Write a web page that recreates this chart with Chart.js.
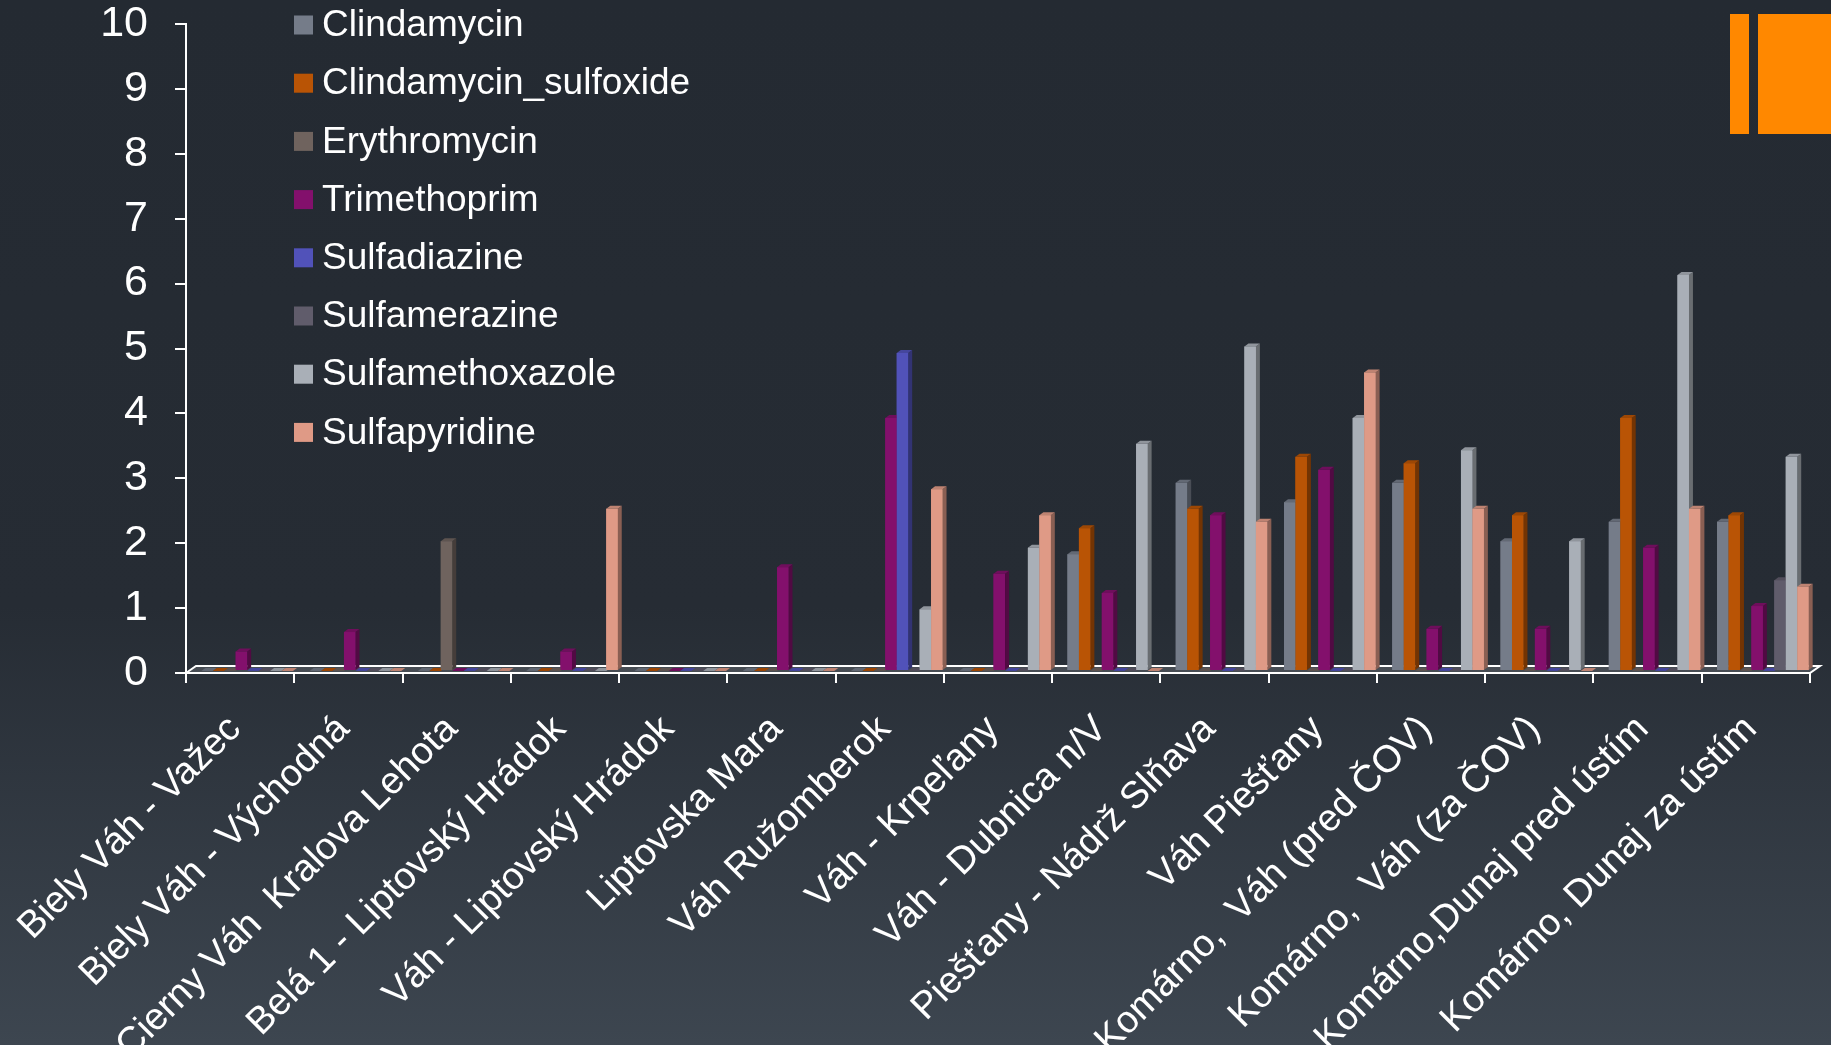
<!DOCTYPE html>
<html>
<head>
<meta charset="utf-8">
<script src="https://cdn.jsdelivr.net/npm/chart.js@4.4.1/dist/chart.umd.min.js"></script>
<style>
  html, body { margin: 0; padding: 0; }
  body {
    width: 1831px; height: 1045px; overflow: hidden; position: relative;
    background: linear-gradient(to bottom, #242a32 0%, #262c34 58%, #3d4650 100%);
  }
  #chart { position: absolute; left: 0; top: 0; }
  .accent { position: absolute; top: 14px; height: 120px; background: #ff8800; }
</style>
</head>
<body>
<canvas id="chart" width="1831" height="1045"></canvas>
<div class="accent" style="left:1730px;width:19px"></div>
<div class="accent" style="left:1758px;width:73px"></div>
<script>
const sites = [
  'Biely Váh - Važec', 'Biely Váh - Východná', 'Cierny Váh  Kralova Lehota',
  'Belá 1 - Liptovský Hrádok', 'Váh - Liptovský Hrádok', 'Liptovska Mara',
  'Váh Ružomberok', 'Váh - Krpeľany', 'Váh - Dubnica n/V', 'Piešťany - Nádrž Slňava',
  'Váh Piešťany', 'Komárno,  Váh (pred ČOV)', 'Komárno,  Váh (za ČOV)',
  'Komárno,Dunaj pred ústím', 'Komárno, Dunaj za ústím'
];

const compounds = [
  'Clindamycin', 'Clindamycin_sulfoxide', 'Erythromycin', 'Trimethoprim',
  'Sulfadiazine', 'Sulfamerazine', 'Sulfamethoxazole', 'Sulfapyridine'
];

const clindamycin         = [0, 0, 0, 0, 0, 0, 0, 0, 1.8, 2.9, 2.6, 2.9, 2.0, 2.3, 2.3];
const clindamycinSulfox   = [0, 0, 0, 0, 0, 0, 0, 0, 2.2, 2.5, 3.3, 3.2, 2.4, 3.9, 2.4];
const erythromycin        = [0, 0, 2.0, 0, 0, 0, 0, 0, 0, 0, 0, 0, 0, 0, 0];
const trimethoprim        = [0.3, 0.6, 0, 0.3, 0, 1.6, 3.9, 1.5, 1.2, 2.4, 3.1, 0.65, 0.65, 1.9, 1.0];
const sulfadiazine        = [0, 0, 0, 0, 0, 0, 4.9, 0, 0, 0, 0, 0, 0, 0, 0];
const sulfamerazine       = [0, 0, 0, 0, 0, 0, 0, 0, 0, 0, 0, 0, 0, 0, 1.4];
const sulfamethoxazole    = [0, 0, 0, 0, 0, 0, 0.95, 1.9, 3.5, 5.0, 3.9, 3.4, 2.0, 6.1, 3.3];
const sulfapyridine       = [0, 0, 0, 2.5, 0, 0, 2.8, 2.4, 0, 2.3, 4.6, 2.5, 0, 2.5, 1.3];

const yTicks = [0, 1, 2, 3, 4, 5, 6, 7, 8, 9, 10];

const seriesValues = [clindamycin, clindamycinSulfox, erythromycin, trimethoprim,
                      sulfadiazine, sulfamerazine, sulfamethoxazole, sulfapyridine];
const seriesColors = ['#757c89', '#b95405', '#6f635e', '#83106c',
                      '#5152b9', '#605c6b', '#a9afb7', '#df9a86'];

const FONT = '"Liberation Sans", Arial, sans-serif';
const PLOT_TOP = 24;

function shade(hex, f) {
  const n = parseInt(hex.slice(1), 16);
  const c = v => Math.max(0, Math.min(255, Math.round(v * f)));
  return `rgb(${c((n >> 16) & 255)},${c((n >> 8) & 255)},${c(n & 255)})`;
}

// pin the top of the value axis so "10" sits right under the edge
const pinTop = {
  id: 'pinTop',
  afterLayout(chart) {
    const a = chart.chartArea;
    const y = chart.scales.y;
    a.top = PLOT_TOP;
    a.height = a.bottom - a.top;
    y.top = PLOT_TOP;
    y.height = y.bottom - y.top;
    y.configure();
  }
};

// columns sit a little behind the front edge of the floor
const SHIFT_X = 7, SHIFT_Y = -2;
// depth of each column's side / top face
const DEPTH_X = 4, DEPTH_Y = -3;

const columns3d = {
  id: 'columns3d',
  beforeDatasetsDraw(chart) {
    const ctx = chart.ctx;
    const a = chart.chartArea;
    const fx = 10, fy = -7;
    ctx.save();
    ctx.beginPath();
    ctx.moveTo(a.left, a.bottom);
    ctx.lineTo(a.left + fx, a.bottom + fy);
    ctx.lineTo(a.right + fx, a.bottom + fy);
    ctx.lineTo(a.right, a.bottom);
    ctx.closePath();
    ctx.fillStyle = 'rgba(255,255,255,0.14)';
    ctx.fill();
    ctx.strokeStyle = '#ffffff';
    ctx.lineWidth = 2;
    ctx.stroke();
    ctx.restore();

    ctx.save();
    ctx.translate(SHIFT_X, SHIFT_Y);
  },
  afterDatasetsDraw(chart) {
    const ctx = chart.ctx;
    const n = chart.data.labels.length;
    for (let i = 0; i < n; i++) {
      chart.data.datasets.forEach((ds, d) => {
        const el = chart.getDatasetMeta(d).data[i];
        if (!el) return;
        const col = seriesColors[d];
        const w = el.width, x0 = el.x - w / 2, x1 = el.x + w / 2;
        const top = el.y, base = el.base;
        if (base - top > 0.5) {
          ctx.fillStyle = shade(col, 0.62);
          ctx.beginPath();
          ctx.moveTo(x1, top);
          ctx.lineTo(x1 + DEPTH_X, top + DEPTH_Y);
          ctx.lineTo(x1 + DEPTH_X, base + DEPTH_Y);
          ctx.lineTo(x1, base);
          ctx.closePath();
          ctx.fill();
          ctx.fillStyle = col;
          ctx.fillRect(x0, top, w, base - top);
        }
        ctx.fillStyle = shade(col, 0.85);
        ctx.beginPath();
        ctx.moveTo(x0, top);
        ctx.lineTo(x0 + DEPTH_X, top + DEPTH_Y);
        ctx.lineTo(x1 + DEPTH_X, top + DEPTH_Y);
        ctx.lineTo(x1, top);
        ctx.closePath();
        ctx.fill();
      });
    }
    ctx.restore();
  }
};

// vertical legend in the upper left of the plot
const legendBlock = {
  id: 'legendBlock',
  afterDraw(chart) {
    const ctx = chart.ctx;
    ctx.save();
    ctx.font = '37px ' + FONT;
    ctx.textBaseline = 'middle';
    ctx.textAlign = 'left';
    compounds.forEach((name, i) => {
      const cy = 25 + i * 58.2;
      ctx.fillStyle = seriesColors[i];
      ctx.fillRect(294, cy - 9.5, 19, 19);
      ctx.fillStyle = '#ffffff';
      ctx.fillText(name, 322, cy + 1);
    });
    ctx.restore();
  }
};

const ctx = document.getElementById('chart').getContext('2d');

new Chart(ctx, {
  type: 'bar',
  data: {
    labels: sites,
    datasets: compounds.map((name, i) => ({
      label: name,
      data: seriesValues[i],
      backgroundColor: seriesColors[i],
      borderWidth: 0,
      categoryPercentage: 0.846,
      barPercentage: 1.0
    }))
  },
  options: {
    responsive: false,
    animation: false,
    layout: { autoPadding: false, padding: { top: 24, right: 21, left: 0, bottom: 0 } },
    plugins: {
      legend: { display: false },
      tooltip: { enabled: false }
    },
    scales: {
      x: {
        offset: true,
        grid: { offset: true, drawOnChartArea: false, color: '#ffffff', lineWidth: 2, tickLength: 10 },
        border: { color: '#ffffff', width: 2 },
        ticks: {
          color: '#ffffff',
          font: { family: FONT, size: 38 },
          minRotation: 45, maxRotation: 45,
          autoSkip: false,
          labelOffset: -5,
          padding: 24
        },
        afterFit(scale) { scale.height = 372; }
      },
      y: {
        min: 0, max: 10,
        afterBuildTicks(scale) { scale.ticks = yTicks.map(v => ({ value: v })); },
        grid: { drawOnChartArea: false, color: '#ffffff', lineWidth: 2, tickLength: 11 },
        border: { color: '#ffffff', width: 2 },
        ticks: {
          color: '#ffffff',
          font: { family: FONT, size: 43 },
          padding: 27
        },
        afterFit(scale) { scale.width = 182; }
      }
    }
  },
  plugins: [pinTop, columns3d, legendBlock]
});
</script>
</body>
</html>
